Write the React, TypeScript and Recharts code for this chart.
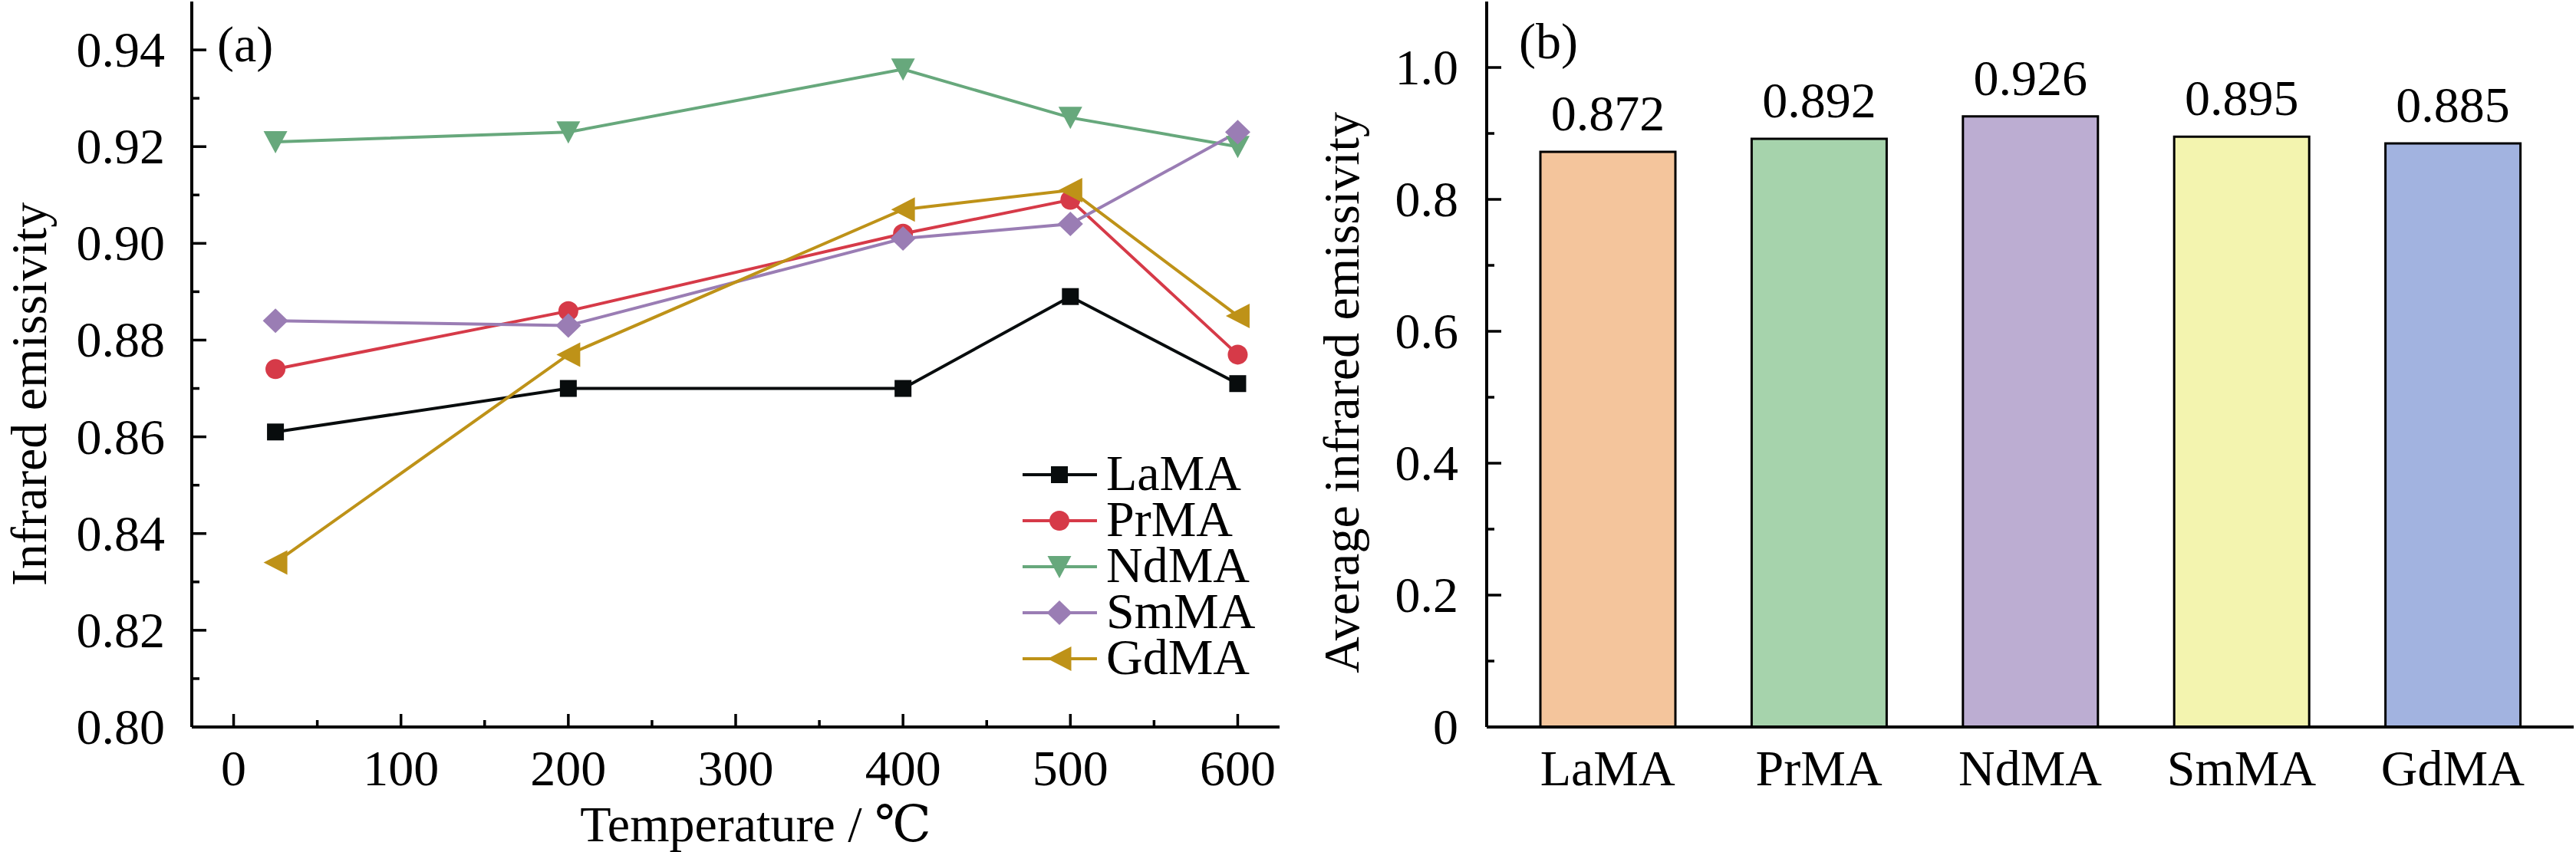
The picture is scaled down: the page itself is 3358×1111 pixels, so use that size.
import { LineChart, Line, BarChart, Bar, Cell, LabelList, XAxis, YAxis, Legend } from 'recharts';

const FONT = '"Liberation Serif", "Times New Roman", serif';
const FONT_SYMBOL = '"Liberation Serif", "DejaVu Serif", "Times New Roman", serif';

// panel (a): emissivity vs temperature
const temperatures = [25, 200, 400, 500, 600];
const laMA = [0.861, 0.870, 0.870, 0.889, 0.871];
const prMA = [0.874, 0.886, 0.902, 0.909, 0.877];
const ndMA = [0.921, 0.923, 0.936, 0.926, 0.920];
const smMA = [0.884, 0.883, 0.901, 0.904, 0.923];
const gdMA = [0.834, 0.877, 0.907, 0.911, 0.885];

const seriesNames = ['LaMA', 'PrMA', 'NdMA', 'SmMA', 'GdMA'];
const seriesValues = [laMA, prMA, ndMA, smMA, gdMA];
const seriesColors = ['#080C0D', '#D63A48', '#67A87C', '#9A7DB4', '#BE9218'];
const seriesMarkers = ['square', 'circle', 'triangleDown', 'diamond', 'triangleLeft'];

const tempTicks = [0, 50, 100, 150, 200, 250, 300, 350, 400, 450, 500, 550, 600];
const emissTicks = [0.8, 0.81, 0.82, 0.83, 0.84, 0.85, 0.86, 0.87, 0.88, 0.89, 0.9, 0.91, 0.92, 0.93, 0.94];

// panel (b): average emissivity
const materials = ['LaMA', 'PrMA', 'NdMA', 'SmMA', 'GdMA'];
const averageValues = [0.872, 0.892, 0.926, 0.895, 0.885];
const barColors = ['#F4C59C', '#A6D3AC', '#BCADD2', '#F3F4AF', '#A2B3E0'];
const avgTicks = [0, 0.1, 0.2, 0.3, 0.4, 0.5, 0.6, 0.7, 0.8, 0.9, 1.0];

const lineData = temperatures.map((t, i) => {
    const row: any = { temp: t };
    seriesNames.forEach((name, s) => { row[name] = seriesValues[s][i]; });
    return row;
});

const barData = materials.map((name, i) => ({ name, value: averageValues[i] }));

const Marker = ({ shape, cx, cy, color }: { shape: string, cx: number, cy: number, color: string }) => {
    if (shape === 'square') return <rect x={cx - 11} y={cy - 11} width={22} height={22} fill={color} />;
    if (shape === 'circle') return <circle cx={cx} cy={cy} r={13} fill={color} />;
    if (shape === 'triangleDown')
        return <polygon points={`${cx - 15.5},${cy - 14} ${cx + 15.5},${cy - 14} ${cx},${cy + 15}`} fill={color} />;
    if (shape === 'diamond')
        return <polygon points={`${cx},${cy - 16} ${cx + 16.5},${cy} ${cx},${cy + 16} ${cx - 16.5},${cy}`} fill={color} />;
    return <polygon points={`${cx - 15.5},${cy} ${cx + 15.5},${cy - 16} ${cx + 15.5},${cy + 16}`} fill={color} />;
};

const textStyle = { fontFamily: FONT, fontSize: 66, fill: '#000' };

const EmissTick = (props: any) => {
    const { x, y, payload } = props;
    const v = payload.value;
    const major = Math.round(v * 100) % 2 === 0;
    return (
        <g>
            <line x1={x} x2={x + (major ? 19 : 10)} y1={y} y2={y} stroke="#000" strokeWidth={3.5} />
            {major && <text x={x - 35} y={y + 22} textAnchor="end" style={textStyle}>{v.toFixed(2)}</text>}
        </g>
    );
};

const TempTick = (props: any) => {
    const { x, y, payload } = props;
    const v = payload.value;
    const major = v % 100 === 0;
    return (
        <g>
            <line x1={x} x2={x} y1={y} y2={y - (major ? 17 : 9)} stroke="#000" strokeWidth={3.5} />
            {major && <text x={x} y={y + 76} textAnchor="middle" style={textStyle}>{v}</text>}
        </g>
    );
};

const AvgTick = (props: any) => {
    const { x, y, payload } = props;
    const v = payload.value;
    const major = Math.round(v * 10) % 2 === 0;
    return (
        <g>
            <line x1={x} x2={x + (major ? 19 : 10)} y1={y} y2={y} stroke="#000" strokeWidth={3.5} />
            {major && <text x={x - 37} y={y + 22} textAnchor="end" style={textStyle}>{v === 0 ? '0' : v.toFixed(1)}</text>}
        </g>
    );
};

const MaterialTick = (props: any) => {
    const { x, y, payload } = props;
    return <text x={x} y={y + 76} textAnchor="middle" style={textStyle}>{payload.value}</text>;
};

const renderLegend = () => (
    <div style={{ fontFamily: FONT, fontSize: 66, color: '#000' }}>
        {seriesNames.map((name, i) => (
            <div key={name} style={{ display: 'flex', alignItems: 'center', height: 60 }}>
                <svg width={97} height={60}>
                    <line x1={0} x2={97} y1={30} y2={30} stroke={seriesColors[i]} strokeWidth={4} />
                    <Marker shape={seriesMarkers[i]} cx={48} cy={30} color={seriesColors[i]} />
                </svg>
                <span style={{ display: 'inline-block', height: 56, lineHeight: '56px', marginLeft: 12, overflow: 'visible', position: 'relative', top: -2 }}>{name}</span>
            </div>
        ))}
    </div>
);

const axisLine = { stroke: '#000', strokeWidth: 4 };

const EmissivityChart = () => (
    <LineChart width={1700} height={1111} data={lineData} margin={{ top: 2, right: 32, bottom: 0, left: 0 }}>
        <XAxis dataKey="temp" type="number" domain={[-25, 625]} ticks={tempTicks} interval={0}
            height={163} tickSize={0} tickMargin={0} tickLine={false} axisLine={axisLine} tick={TempTick}
            label={(p: any) => (
                <text x={p.viewBox.x + p.viewBox.width / 2 + 26} y={p.viewBox.y + 149} textAnchor="middle"
                    style={{ ...textStyle, fontFamily: FONT_SYMBOL }}>
                    Temperature / ℃
                </text>
            )} />
        <XAxis xAxisId="frame" orientation="top" type="number" domain={[0, 1]} height={0} tick={false} tickLine={false} axisLine={axisLine} />
        <YAxis type="number" domain={[0.8, 0.95]} ticks={emissTicks} interval={0} allowDataOverflow
            width={250} tickSize={0} tickMargin={0} tickLine={false} axisLine={axisLine} tick={EmissTick}
            label={(p: any) => (
                <text transform={`translate(60, ${p.viewBox.y + p.viewBox.height / 2 + 39}) rotate(-90)`} textAnchor="middle" style={textStyle}>
                    Infrared emissivity
                </text>
            )} />
        <YAxis yAxisId="frame" orientation="right" type="number" domain={[0, 1]} width={0} tick={false} tickLine={false} axisLine={axisLine} />
        {seriesNames.map((name, s) => (
            <Line key={name} type="linear" dataKey={name} stroke={seriesColors[s]} strokeWidth={4}
                isAnimationActive={false} activeDot={false}
                dot={(p: any) => <Marker key={`${name}-${p.index}`} shape={seriesMarkers[s]} cx={p.cx} cy={p.cy} color={seriesColors[s]} />} />
        ))}
        <Legend layout="vertical" align="center" verticalAlign="middle" content={renderLegend}
            wrapperStyle={{ left: 1333, top: 589, width: 'auto', height: 'auto' }} />
        <text x={283} y={80} style={textStyle}>(a)</text>
    </LineChart>
);

const AverageChart = () => (
    <BarChart width={1658} height={1111} data={barData} margin={{ top: 2, right: 3, bottom: 0, left: 0 }} barSize={176}>
        <XAxis dataKey="name" height={163} padding={{ left: 20, right: 20 }} interval={0}
            tickSize={0} tickMargin={0} tickLine={false} axisLine={axisLine} tick={MaterialTick} />
        <XAxis xAxisId="frame" orientation="top" type="number" domain={[0, 1]} height={0} tick={false} tickLine={false} axisLine={axisLine} />
        <YAxis type="number" domain={[0, 1.1]} ticks={avgTicks} interval={0} allowDataOverflow
            width={238} tickSize={0} tickMargin={0} tickLine={false} axisLine={axisLine} tick={AvgTick}
            label={(p: any) => (
                <text transform={`translate(71, ${p.viewBox.y + p.viewBox.height / 2 + 37}) rotate(-90)`} textAnchor="middle" style={textStyle}>
                    Average infrared emissivity
                </text>
            )} />
        <YAxis yAxisId="frame" orientation="right" type="number" domain={[0, 1]} width={0} tick={false} tickLine={false} axisLine={axisLine} />
        <Bar dataKey="value" stroke="#000" strokeWidth={3} isAnimationActive={false}>
            {barData.map((d, i) => <Cell key={d.name} fill={barColors[i]} />)}
            <LabelList dataKey="value" content={(p: any) => (
                <text x={p.x + p.width / 2} y={p.y - 28} textAnchor="middle" style={textStyle}>
                    {Number(p.value).toFixed(3)}
                </text>
            )} />
        </Bar>
        <text x={280} y={76} style={textStyle}>(b)</text>
    </BarChart>
);

export default function App() {
    return (
        <div style={{ position: 'absolute', left: 0, top: 0, width: 3358, height: 1111, display: 'flex', background: '#fff' }}>
            <EmissivityChart />
            <AverageChart />
        </div>
    );
}
